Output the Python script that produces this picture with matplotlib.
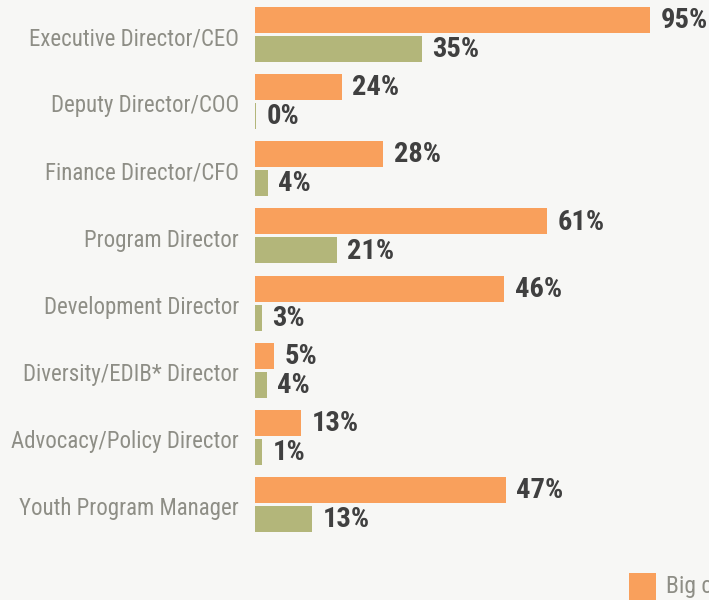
import matplotlib
matplotlib.use("Agg")
import matplotlib.pyplot as plt
import numpy as np

categories = ["Executive Director/CEO", "Deputy Director/COO", "Finance Director/CFO",
              "Program Director", "Development Director", "Diversity/EDIB* Director",
              "Advocacy/Policy Director", "Youth Program Manager"]
# bar lengths as drawn in the reference
big_values = [95, 20.9, 30.8, 70.2, 59.9, 4.6, 11.1, 60.3]
small_values = [40.1, 0.25, 3.1, 19.7, 1.7, 2.9, 1.7, 13.7]
# printed labels
big_labels = ["95%", "24%", "28%", "61%", "46%", "5%", "13%", "47%"]
small_labels = ["35%", "0%", "4%", "21%", "3%", "4%", "1%", "13%"]
legend_labels = ["Big cities"]

ORANGE = "#F9A05C"
GREEN = "#B3B67A"
BG = "#F7F7F5"
LABEL_GRAY = "#8E8E86"
VALUE_DARK = "#404040"
FAM = ["Roboto Condensed", "Barlow Condensed", "DejaVu Sans"]

W, H = 709, 600
fig = plt.figure(figsize=(W / 100, H / 100), dpi=100, facecolor=BG)
ax = fig.add_axes([255 / W, 0, 454 / W, 1])
ax.set_facecolor(BG)

y = np.arange(len(categories))
off = 0.216
bh = 0.387
ax.barh(y - off, big_values, height=bh, color=ORANGE, linewidth=0)
ax.barh(y + off, small_values, height=bh, color=GREEN, linewidth=0)

for yi, v, lab in zip(y, big_values, big_labels):
    ax.annotate(lab, (v, yi - off), xytext=(7.5, -0.5), textcoords="offset points",
                va="center", ha="left", fontsize=20.5, fontweight="bold",
                color=VALUE_DARK, family=FAM)
for yi, v, lab in zip(y, small_values, small_labels):
    ax.annotate(lab, (v, yi + off), xytext=(7.5, -0.5), textcoords="offset points",
                va="center", ha="left", fontsize=20.5, fontweight="bold",
                color=VALUE_DARK, family=FAM)

ax.set_xlim(0, 109.1)
ax.set_ylim(8.423, -0.514)
ax.set_yticks(y + 0.025)
ax.set_yticklabels(categories, family=FAM, fontsize=16.5, color=LABEL_GRAY)
ax.tick_params(axis="y", length=0, pad=11.5)
ax.set_xticks([])
for s in ax.spines.values():
    s.set_visible(False)

# legend (cut off at the right edge as in the reference)
fig.patches.append(plt.Rectangle((629 / W, 0), 27 / W, 27 / H, transform=fig.transFigure,
                                 color=ORANGE, linewidth=0))
fig.text(666 / W, 1 - 587 / H, legend_labels[0], ha="left", va="center", fontsize=17,
         color=LABEL_GRAY, family=FAM)

fig.savefig("out.png", facecolor=BG)
